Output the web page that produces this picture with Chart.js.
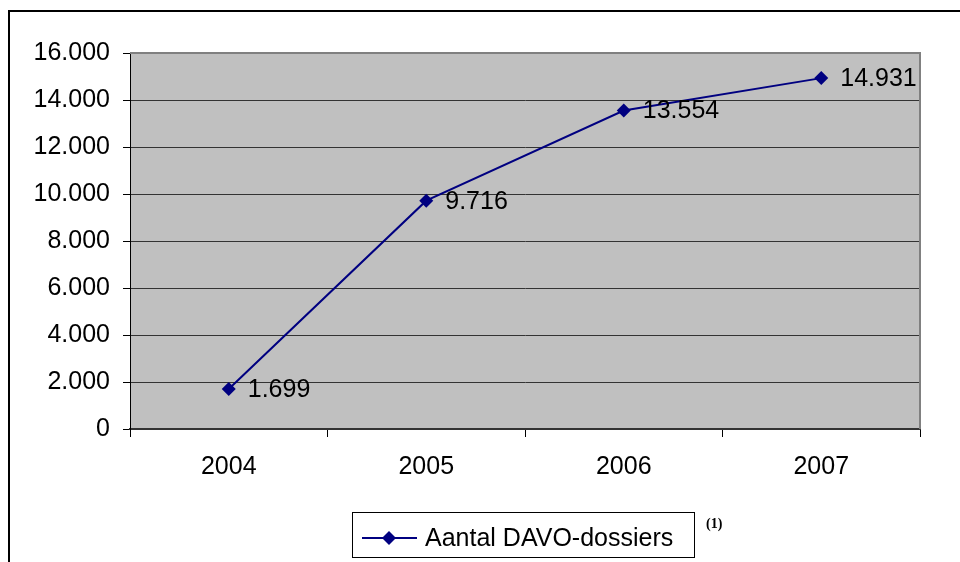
<!DOCTYPE html>
<html>
<head>
<meta charset="utf-8">
<script src="https://cdn.jsdelivr.net/npm/chart.js@4"></script>
<style>
html,body{margin:0;padding:0;background:#fff;}
canvas{display:block;}
</style>
</head>
<body>
<canvas id="c" width="960" height="562"></canvas>
<script>
const categories = ['2004', '2005', '2006', '2007'];
const seriesName = 'Aantal DAVO-dossiers';
const seriesValues = [1699, 9716, 13554, 14931];
const yMin = 0, yMax = 16000, yStep = 2000;
const footnote = '(1)';

const FONT = '"Liberation Sans", Arial, sans-serif';
function fmt(v) {
  return String(Math.round(v)).replace(/\B(?=(\d{3})+(?!\d))/g, '.');
}

const decor = {
  id: 'decor',
  beforeDraw(chart) {
    const {ctx, chartArea: a} = chart;
    ctx.save();
    ctx.fillStyle = '#C0C0C0';
    ctx.fillRect(a.left, a.top, a.right - a.left, a.bottom - a.top);
    ctx.restore();
  },
  afterDatasetsDraw(chart) {
    const {ctx, chartArea: a} = chart;
    ctx.save();
    ctx.strokeStyle = '#808080';
    ctx.lineWidth = 2;
    ctx.beginPath();
    ctx.moveTo(a.left, a.top);
    ctx.lineTo(a.right, a.top);
    ctx.lineTo(a.right, a.bottom);
    ctx.stroke();
    const meta = chart.getDatasetMeta(0);
    ctx.fillStyle = '#000';
    ctx.font = '25px ' + FONT;
    ctx.textBaseline = 'middle';
    ctx.textAlign = 'left';
    meta.data.forEach((pt, i) => {
      ctx.fillText(fmt(seriesValues[i]), pt.x + 19, pt.y + 1);
    });
    ctx.restore();
  },
  afterDraw(chart) {
    const {ctx} = chart;
    ctx.save();
    ctx.strokeStyle = '#000';
    ctx.lineWidth = 2;
    ctx.beginPath();
    ctx.moveTo(9, 562);
    ctx.lineTo(9, 11);
    ctx.lineTo(960, 11);
    ctx.stroke();
    ctx.lineWidth = 1;
    ctx.strokeStyle = '#000';
    ctx.strokeRect(352.5, 512.5, 342, 45);
    const ly = 538;
    ctx.strokeStyle = '#000080';
    ctx.lineWidth = 2;
    ctx.beginPath();
    ctx.moveTo(362, ly);
    ctx.lineTo(417, ly);
    ctx.stroke();
    ctx.fillStyle = '#000080';
    ctx.beginPath();
    ctx.moveTo(389, ly - 7);
    ctx.lineTo(396, ly);
    ctx.lineTo(389, ly + 7);
    ctx.lineTo(382, ly);
    ctx.closePath();
    ctx.fill();
    ctx.fillStyle = '#000';
    ctx.font = '25px ' + FONT;
    ctx.textBaseline = 'middle';
    ctx.textAlign = 'left';
    ctx.fillText(seriesName, 425, ly + 1);
    ctx.font = 'bold 14px "Liberation Serif", "Times New Roman", serif';
    ctx.fillText(footnote, 706, 524);
    ctx.restore();
  }
};

new Chart(document.getElementById('c'), {
  type: 'line',
  data: {
    labels: categories,
    datasets: [{
      label: seriesName,
      data: seriesValues,
      borderColor: '#000080',
      backgroundColor: '#000080',
      borderWidth: 2,
      pointStyle: 'rectRot',
      pointRadius: 7,
      pointHoverRadius: 7,
      pointBackgroundColor: '#000080',
      pointBorderColor: '#000080',
      pointBorderWidth: 0,
      tension: 0
    }]
  },
  options: {
    responsive: false,
    animation: false,
    events: [],
    layout: {padding: {left: 0, top: 53, right: 40, bottom: 0}},
    plugins: {legend: {display: false}, tooltip: {enabled: false}},
    scales: {
      x: {
        type: 'category',
        offset: true,
        afterFit(s) { s.height = 133; },
        grid: {offset: true, drawOnChartArea: false, tickLength: 8, tickColor: '#000', lineWidth: 1},
        border: {display: true, color: '#333', width: 2},
        ticks: {color: '#000', font: {family: FONT, size: 25}, padding: 15, maxRotation: 0}
      },
      y: {
        min: yMin, max: yMax,
        afterFit(s) { s.width = 130; },
        grid: {
          color: (c) => (c.tick && c.tick.value === yMax) ? 'rgba(0,0,0,0)' : '#333',
          tickColor: '#000',
          tickLength: 7,
          lineWidth: 1
        },
        border: {display: true, color: '#000', width: 1},
        ticks: {
          stepSize: yStep,
          color: '#000',
          font: {family: FONT, size: 25},
          padding: 13,
          callback: (v) => fmt(v)
        }
      }
    }
  },
  plugins: [decor]
});
</script>
</body>
</html>
